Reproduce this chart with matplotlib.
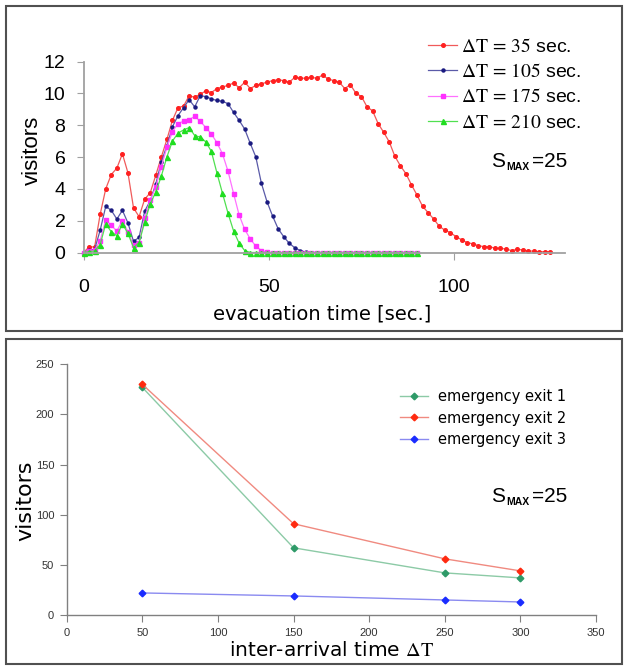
import numpy as np
import matplotlib
matplotlib.use("Agg")
import matplotlib.pyplot as plt
from matplotlib.patches import Rectangle

plt.rcParams['font.family'] = ['Liberation Sans', 'DejaVu Sans']
plt.rcParams['mathtext.fontset'] = 'stix'

# --- top chart: visitors over evacuation time, sampled every 1.5 sec ---
step = 1.5
red_35 = [0, 0.35, 0.35, 2.4, 4.0, 4.9, 5.3, 6.2, 5.0, 2.8,
          2.25, 3.35, 3.75, 4.85, 6.0, 7.1, 8.3, 9.1, 9.2, 9.85,
          9.75, 9.95, 10.15, 10.05, 10.3, 10.4, 10.5, 10.65, 10.35, 10.7,
          10.3, 10.5, 10.6, 10.7, 10.8, 10.85, 10.8, 10.7, 11.0, 10.95,
          10.95, 11.0, 10.95, 11.15, 10.9, 10.8, 10.7, 10.3, 10.55, 10.0,
          9.8, 9.15, 8.9, 8.1, 7.55, 6.95, 6.05, 5.45, 4.95, 4.25,
          3.6, 2.9, 2.5, 2.1, 1.65, 1.4, 1.25, 1.0, 0.8, 0.62,
          0.55, 0.43, 0.37, 0.37, 0.27, 0.26, 0.22, 0.12, 0.2, 0.16,
          0.1, 0.08, 0.05, 0.05, 0.05]
blue_105 = [0, 0.15, 0.2, 1.4, 2.9, 2.65, 2.1, 2.65, 1.85, 0.7,
            0.95, 2.6, 3.25, 4.3, 5.7, 6.7, 7.9, 8.6, 9.1, 9.6,
            9.15, 9.85, 9.8, 9.65, 9.55, 9.5, 9.35, 8.8, 8.3, 7.75,
            6.85, 6.0, 4.35, 3.2, 2.3, 1.5, 1.0, 0.58, 0.3, 0.12,
            0.03] + [0] * 20
mag_175 = [0, 0.1, 0.15, 0.75, 2.05, 1.7, 1.35, 2.0, 1.3, 0.45,
           0.6, 2.15, 3.3, 4.1, 5.4, 6.6, 7.6, 8.1, 8.25, 8.35,
           8.55, 8.25, 7.85, 7.45, 6.9, 6.2, 5.1, 3.7, 2.35, 1.45,
           0.85, 0.4, 0.12, 0.02] + [0] * 27
green_210 = [0, 0.05, 0.1, 0.5, 1.8, 1.3, 1.05, 1.8, 1.2, 0.3,
             0.62, 1.9, 3.05, 3.8, 4.8, 6.0, 7.0, 7.5, 7.7, 7.85,
             7.35, 7.25, 6.95, 6.35, 5.0, 3.72, 2.46, 1.35, 0.58, 0.12] + [0] * 31

top_labels = [r'$\Delta\mathrm{T}\,=\,35$ sec.', r'$\Delta\mathrm{T}\,=\,105$ sec.',
              r'$\Delta\mathrm{T}\,=\,175$ sec.', r'$\Delta\mathrm{T}\,=\,210$ sec.']

# --- bottom chart: visitors per exit vs inter-arrival time ---
inter_arrival = [50, 150, 250, 300]
exit1 = [227, 67, 42, 37]
exit2 = [230, 91, 56, 44]
exit3 = [22, 19, 15, 13]
exit_labels = ['emergency exit 1', 'emergency exit 2', 'emergency exit 3']

fig = plt.figure(figsize=(6.26, 6.66), dpi=100)
W, H = 626.0, 666.0

# panel frames
fig.add_artist(Rectangle((5.5 / W, 1 - 331 / H), 616 / W, 325 / H, transform=fig.transFigure,
                         fill=False, ec='#505050', lw=1.5))
fig.add_artist(Rectangle((5.5 / W, 1 - 664 / H), 616 / W, 325 / H, transform=fig.transFigure,
                         fill=False, ec='#505050', lw=1.5))

# ---------------- top chart ----------------
ax1 = fig.add_axes([83.5 / W, 1 - 252.5 / H, 481.8 / W, 191 / H])
series = [(red_35, '#ff2020', '#f05a5a', 'o', 2.6),
          (blue_105, '#1a1a80', '#5a5aa8', 'o', 2.2),
          (mag_175, '#ff30ff', '#ff70ff', 's', 3.2),
          (green_210, '#20dd20', '#50e050', '^', 3.6)]
for (vals, mc, lc, mk, ms), lab in zip(series, top_labels):
    t = np.arange(len(vals)) * step
    ax1.plot(t, vals, color=lc, lw=0.9, marker=mk, ms=ms, mfc=mc, mec=mc,
             label=lab, clip_on=False)
ax1.set_xlim(0, 130)
ax1.set_ylim(0, 12)
ax1.set_xticks([0, 50, 100])
ax1.set_yticks(range(0, 13, 2))
for s in ['top', 'right']:
    ax1.spines[s].set_visible(False)
for s in ['left', 'bottom']:
    ax1.spines[s].set_color('#a0a0a0')
    ax1.spines[s].set_linewidth(1.3)
ax1.tick_params(axis='both', direction='out', length=5, color='#a0a0a0', labelsize=14)
ax1.tick_params(axis='x', pad=14)
ax1.tick_params(axis='y', pad=8)
leg1 = ax1.legend(loc='upper left', bbox_to_anchor=(428 / W, 1 - 38 / H),
                  bbox_transform=fig.transFigure, frameon=False, fontsize=14,
                  handlelength=1.5, handletextpad=0.2, labelspacing=0.37, borderpad=0,
                  borderaxespad=0)
fig.text(32 / W, 1 - 150 / H, 'visitors', rotation=90, ha='center', va='center', fontsize=16)
fig.text(322 / W, 1 - 314 / H, 'evacuation time [sec.]', ha='center', va='center',
         fontsize=14, family='DejaVu Sans')

# S_MAX annotation
for ybase in [167, 501.5]:
    fig.text(491 / W, 1 - ybase / H, 'S', fontsize=15, ha='left', va='baseline')
    fig.text(506 / W, 1 - (ybase + 3.5) / H, 'MAX', fontsize=7.5, fontweight='bold',
             ha='left', va='baseline')
    fig.text(532 / W, 1 - ybase / H, '=25', fontsize=15, ha='left', va='baseline')

# ---------------- bottom chart ----------------
ax2 = fig.add_axes([66.7 / W, 1 - 615 / H, 529.3 / W, 250.7 / H])
bottom_series = [(exit1, '#2e9a68', '#8ccaa6'),
                 (exit2, '#ff2a10', '#f08a80'),
                 (exit3, '#1a2cff', '#8a8af0')]
for (vals, mc, lc), lab in zip(bottom_series, exit_labels):
    ax2.plot(inter_arrival, vals, color=lc, lw=1.0, marker='D', ms=3.4, mfc=mc, mec=mc,
             label=lab, clip_on=False)
ax2.set_xlim(0, 350)
ax2.set_ylim(0, 250)
ax2.set_xticks(range(0, 351, 50))
ax2.set_yticks(range(0, 251, 50))
for s in ['top', 'right']:
    ax2.spines[s].set_visible(False)
for s in ['left', 'bottom']:
    ax2.spines[s].set_color('#808080')
    ax2.spines[s].set_linewidth(1.0)
ax2.tick_params(axis='both', direction='out', length=5, color='#808080', labelsize=8,
                labelcolor='#333333', pad=4)
ax2.legend(loc='upper left', bbox_to_anchor=(400 / W, 1 - 389 / H),
           bbox_transform=fig.transFigure, frameon=False,
           handlelength=1.9, handletextpad=0.7, labelspacing=0.45, borderpad=0,
           borderaxespad=0, prop={'family': 'DejaVu Sans', 'size': 10.5})
fig.text(25 / W, 1 - 501 / H, 'visitors', rotation=90, ha='center', va='center',
         fontsize=16, family='DejaVu Sans')
fig.text(332 / W, 1 - 651 / H, r'inter-arrival time $\Delta\mathrm{T}$', ha='center',
         va='center', fontsize=14.5, family='DejaVu Sans')

fig.savefig('out.png', dpi=100)
